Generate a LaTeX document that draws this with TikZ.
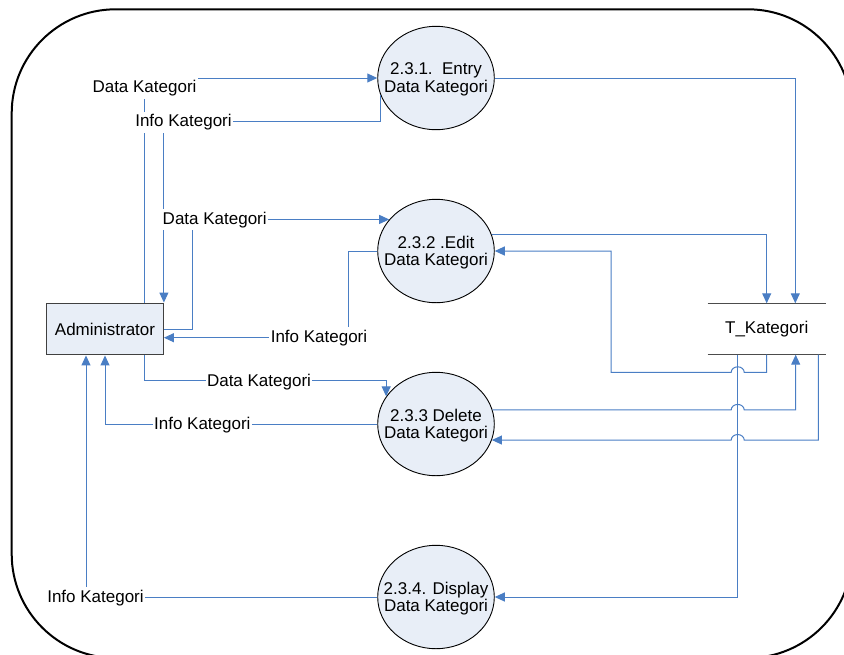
\documentclass[tikz,border=0pt]{standalone}
\usepackage{fontspec}
\setmainfont{Liberation Sans}
\usetikzlibrary{arrows.meta,shapes.geometric}
\definecolor{flowblue}{HTML}{4A7EC4}
\definecolor{procfill}{HTML}{E8EEF7}
\begin{document}
\begin{tikzpicture}[x={(1pt,0pt)},y={(0pt,-1pt)},
  txt/.style={font=\fontsize{17}{17.2}\selectfont},
  proc/.style={ellipse, draw=black, line width=0.9pt, fill=procfill,
    minimum width=116.6pt, minimum height=103.4pt, inner sep=0pt},
  ptext/.style={txt, align=center, inner sep=0pt},
  ent/.style={rectangle, draw=black!75, line width=1.2pt, fill=procfill,
    minimum width=116.6pt, minimum height=51.7pt, inner sep=0pt, txt},
  storebox/.style={minimum width=118pt, minimum height=51pt, inner sep=0pt, txt},
  storeline/.style={draw=black!70, line width=1.2pt},
  flow/.style={draw=flowblue, line width=1pt},
  flowa/.style={flow, -{Triangle[length=10pt,width=9pt]}},
  lab/.style={txt, fill=white, inner xsep=1.5pt, inner ysep=2.6pt, anchor=base}]
\useasboundingbox (0,0) rectangle (844,654);
\begin{scope}
  \clip (0,0) rectangle (844,654);
  \draw[line width=2pt, rounded corners=104pt] (11.7,9.3) rectangle (852,658);
\end{scope}

% processes
\node[proc] (p1) at (436,78) {};
\node[ptext] (p1t) at (436,79.3) {2.3.1.\ \ Entry\\Data Kategori};
\node[proc] (p2) at (436,251) {};
\node[ptext] (p2t) at (436,252.3) {2.3.2 .Edit\\Data Kategori};
\node[proc] (p3) at (436,424) {};
\node[ptext] (p3t) at (436,425.3) {2.3.3 Delete\\Data Kategori};
\node[proc] (p4) at (436,597) {};
\node[ptext] (p4t) at (436,598.3) {2.3.4. Display\\Data Kategori};

% entity and store
\node[ent] (admin) at (105,329) {Administrator};
\node[storebox] (store) at (766.7,329) {T\_Kategori};
\draw[storeline] (store.north west) -- (store.north east);
\draw[storeline] (store.south west) -- (store.south east);

% helper coordinates
\coordinate (vxl) at (731.2,0);
\coordinate (vxr) at (744.2,0);
\coordinate (y1) at (0,78.7);
\coordinate (y2) at (0,121.7);
\coordinate (xa) at (192.7,0);
\coordinate (k4) at (348.3,337.7);
\coordinate (y5) at (0,380.7);
\coordinate (k10) at (611,372.3);

% flows
\draw[flowa] ([xshift=39pt]admin.north) |- (p1.west);
\draw[flowa] (p1.197) |- (admin.north east |- y2) -- (admin.north east);
\draw[flowa] (admin.east) -| (xa |- p2.146) -- (p2.146);
\draw[flowa] (p2.west) -| (k4) -- (admin.east |- k4);
\draw[flowa] ([xshift=39pt]admin.south) |- (p3.151 |- y5) -- (p3.151);
\draw[flowa] (p3.west) -| (admin.south);
\draw[flowa] (p4.west) -| ([xshift=-19pt]admin.south);
\draw[flowa] (p1.east) -| ([xshift=28.6pt]store.north);
\draw[flowa] (p2.17) -| (store.north);
\draw[flowa] ([xshift=-29pt]store.south) |- (p4.east);
\draw[flowa] (store.south) |- (vxr |- k10)
  arc[start angle=0,end angle=-180,x radius=6.5,y radius=5.5] -- (k10) |- (p2.east);
\draw[flowa] (p3.14) -- (vxl |- p3.14)
  arc[start angle=180,end angle=360,x radius=6.5,y radius=5.5] -| ([xshift=29pt]store.south);
\draw[flowa] ([xshift=51.6pt]store.south) |- (vxr |- p3.344)
  arc[start angle=0,end angle=-180,x radius=6.5,y radius=5.5] -- (p3.344);

% labels
\node[lab] (l1) at (144.5,92.7) {Data Kategori};
\node[lab] (l2) at (183.5,126.7) {Info Kategori};
\node[lab] (l3) at (214.7,224) {Data Kategori};
\node[lab] (l4) at (319,342.3) {Info Kategori};
\node[lab] (l5) at (259,386) {Data Kategori};
\node[lab] (l6) at (202.3,429.3) {Info Kategori};
\node[lab] (l7) at (95.5,602) {Info Kategori};
\end{tikzpicture}
\end{document}
